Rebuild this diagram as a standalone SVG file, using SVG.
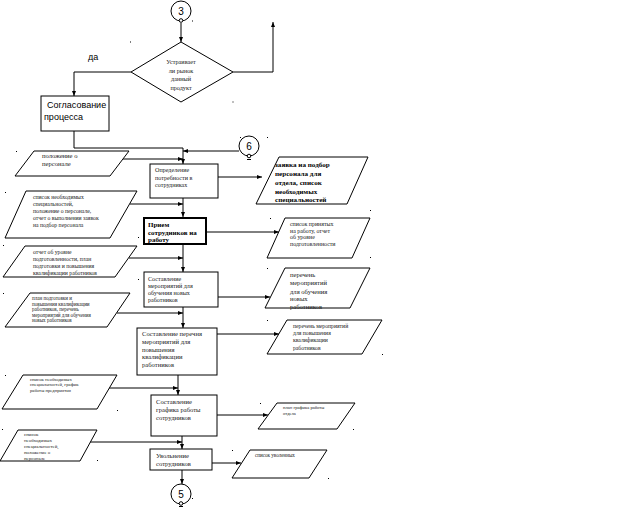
<svg xmlns="http://www.w3.org/2000/svg" width="619" height="508" viewBox="0 0 619 508">
<style>
.ln{fill:none;stroke:#000;stroke-width:1}
.bx{fill:#fff;stroke:#000;stroke-width:1}
.bxb{fill:#fff;stroke:#000;stroke-width:2}
.s{font-family:"Liberation Serif","Times New Roman",serif;fill:#222}
.sb{font-family:"Liberation Serif","Times New Roman",serif;fill:#000;font-weight:bold}
.a{font-family:"Liberation Sans",Arial,sans-serif;fill:#000}
.dot{fill:#000}
</style>
<defs>
<marker id="ar" viewBox="0 0 10 10" refX="10" refY="5" markerWidth="5" markerHeight="5" markerUnits="userSpaceOnUse" orient="auto"><path d="M0,1 L10,5 L0,9 z" fill="#000"/></marker>
</defs>
<rect width="619" height="508" fill="#fff"/>

<g id="connectors">
<path class="ln" d="M181,23 V42" marker-end="url(#ar)"/>
<path class="ln" d="M131,72 H74 V96" marker-end="url(#ar)"/>
<path class="ln" d="M233,72 H273 V22" marker-end="url(#ar)"/>
<path class="ln" d="M74,131 V148 H183 V164" marker-end="url(#ar)"/>
<path class="ln" d="M239,151 H183" marker-end="url(#ar)"/>
<path class="ln" d="M123,159 H183" marker-end="url(#ar)"/>
<path class="ln" d="M183,198 V217" marker-end="url(#ar)"/>
<path class="ln" d="M130,204 H183" marker-end="url(#ar)"/>
<path class="ln" d="M218,177 H262" marker-end="url(#ar)"/>
<path class="ln" d="M206,232 H279" marker-end="url(#ar)"/>
<path class="ln" d="M129,258 H183" marker-end="url(#ar)"/>
<path class="ln" d="M183,244 V272" marker-end="url(#ar)"/>
<path class="ln" d="M218,297 H270" marker-end="url(#ar)"/>
<path class="ln" d="M117,313 H183" marker-end="url(#ar)"/>
<path class="ln" d="M183,307 V328" marker-end="url(#ar)"/>
<path class="ln" d="M217,334 H279" marker-end="url(#ar)"/>
<path class="ln" d="M178,375 V395" marker-end="url(#ar)"/>
<path class="ln" d="M109,388 H178" marker-end="url(#ar)"/>
<path class="ln" d="M217,415 H268" marker-end="url(#ar)"/>
<path class="ln" d="M182,436 V449" marker-end="url(#ar)"/>
<path class="ln" d="M90,442 H182" marker-end="url(#ar)"/>
<path class="ln" d="M212,463 H241" marker-end="url(#ar)"/>
<path class="ln" d="M182,470 V484" marker-end="url(#ar)"/>
</g>

<g id="conn3">
<circle class="bx" cx="181" cy="11" r="10"/>
<text class="a" x="181" y="14.5" font-size="10" text-anchor="middle">3</text>
<circle class="bx" cx="181" cy="20.5" r="1.8"/>
</g>

<g id="decision">
<polygon class="bx" points="181,42 233,72 181,102 131,72"/>
<text class="s" font-size="6.2" text-anchor="middle"><tspan x="181" y="64">Устраивает</tspan><tspan x="181" y="73">ли рынок</tspan><tspan x="181" y="81">данный</tspan><tspan x="181" y="89.5">продукт</tspan></text>
</g>

<g id="yes-label"><text class="a" x="88" y="60" font-size="9">да</text></g>

<g id="soglasovanie">
<rect class="bx" x="41" y="96" width="68" height="35"/>
<text class="a" font-size="9"><tspan x="47" y="107.5">Согласование</tspan><tspan x="44" y="120">процесса</tspan></text>
</g>

<g id="conn6">
<circle class="bx" cx="249" cy="146" r="10"/>
<text class="a" x="249" y="150" font-size="10" text-anchor="middle">6</text>
<circle class="bx" cx="249" cy="156" r="1.8"/>
<path class="ln" d="M247,159.5 H251"/>
</g>

<g id="in-polozhenie">
<polygon class="bx" points="34,151 129,151 110,176 15,176"/>
<text class="s" font-size="6.6"><tspan x="42" y="158">положение о</tspan><tspan x="42" y="166">персонале</tspan></text>
</g>

<g id="opredelenie">
<rect class="bx" x="150" y="164" width="68" height="34"/>
<text class="s" font-size="6.1" fill="#444"><tspan x="155" y="172">Определение</tspan><tspan x="155" y="179.5">потребности в</tspan><tspan x="155" y="187">сотрудниках</tspan></text>
</g>

<g id="out-zayavka">
<polygon class="bx" points="279,157 368,157 347,204 256,204"/>
<text class="sb" font-size="7.1"><tspan x="275" y="167">заявка на подбор</tspan><tspan x="275" y="176">персонала для</tspan><tspan x="275" y="185">отдела, список</tspan><tspan x="275" y="194">необходимых</tspan><tspan x="275" y="202">специальностей</tspan></text>
</g>

<g id="in-spisok1">
<polygon class="bx" points="26,191 137,191 110,238 5,238"/>
<text class="s" font-size="5.7"><tspan x="33" y="199">список необходимых</tspan><tspan x="33" y="206">специальностей,</tspan><tspan x="33" y="213">положение о персонале,</tspan><tspan x="33" y="220">отчет о выполнении заявок</tspan><tspan x="33" y="227">на подбор персонала</tspan></text>
</g>

<g id="priem">
<rect class="bxb" x="144" y="218" width="62" height="26"/>
<text class="sb" font-size="7"><tspan x="148" y="226.5">Прием</tspan><tspan x="148" y="234.5">сотрудников на</tspan><tspan x="148" y="242">работу</tspan></text>
</g>

<g id="out-prinyatye">
<polygon class="bx" points="285,218 370,218 352,258 267,258"/>
<text class="s" font-size="5.9"><tspan x="290" y="226">список принятых</tspan><tspan x="290" y="232.5">на работу, отчет</tspan><tspan x="290" y="239">об уровне</tspan><tspan x="290" y="246">подготовленности</tspan></text>
</g>

<g id="in-otchet">
<polygon class="bx" points="25,246 137,246 115,277 3,277"/>
<text class="s" font-size="5.7"><tspan x="33" y="254">отчет об уровне</tspan><tspan x="33" y="261">подготовленности, план</tspan><tspan x="33" y="268">подготовки и повышения</tspan><tspan x="33" y="275">квалификации работников</tspan></text>
</g>

<g id="sostavlenie-obuch">
<rect class="bx" x="144" y="272" width="74" height="35"/>
<text class="s" font-size="6.1"><tspan x="148" y="281">Составление</tspan><tspan x="148" y="288">мероприятий для</tspan><tspan x="148" y="295">обучения новых</tspan><tspan x="148" y="302">работников</tspan></text>
</g>

<g id="out-perechen-obuch">
<polygon class="bx" points="285,268 370,268 350,308 265,308"/>
<text class="s" font-size="6.6"><tspan x="290" y="277">перечень</tspan><tspan x="290" y="285">мероприятий</tspan><tspan x="290" y="293.5">для обучения</tspan><tspan x="290" y="301">новых</tspan><tspan x="290" y="309">работников</tspan></text>
</g>

<g id="in-plan">
<polygon class="bx" points="30,293 130,293 107,327 5,327"/>
<text class="s" font-size="5.1"><tspan x="32" y="300">план подготовки и</tspan><tspan x="32" y="305.5">повышения квалификации</tspan><tspan x="32" y="311">работников, перечень</tspan><tspan x="32" y="316.5">мероприятий для обучения</tspan><tspan x="32" y="322">новых работников</tspan></text>
</g>

<g id="sostavlenie-perechnya">
<rect class="bx" x="137" y="328" width="80" height="47"/>
<text class="s" font-size="6.6"><tspan x="142" y="336">Составление перечня</tspan><tspan x="142" y="344">мероприятий для</tspan><tspan x="142" y="351.5">повышения</tspan><tspan x="142" y="359">квалификации</tspan><tspan x="142" y="367">работников</tspan></text>
</g>

<g id="out-perechen-kval">
<polygon class="bx" points="287,320 382,320 362,354 267,354"/>
<text class="s" font-size="5.7"><tspan x="293" y="328">перечень мероприятий</tspan><tspan x="293" y="335">для повышения</tspan><tspan x="293" y="342">квалификации</tspan><tspan x="293" y="349.5">работников</tspan></text>
</g>

<g id="in-grafik">
<polygon class="bx" points="23,375 117,375 97,409 2,409"/>
<text class="s" font-size="4.7"><tspan x="30" y="381">список необходимых</tspan><tspan x="30" y="386">специальностей, график</tspan><tspan x="30" y="391.5">работы предприятия</tspan></text>
</g>

<g id="sostavlenie-grafika">
<rect class="bx" x="151" y="395" width="66" height="41"/>
<text class="s" font-size="6.6"><tspan x="156" y="404">Составление</tspan><tspan x="156" y="412">графика работы</tspan><tspan x="156" y="420">сотрудников</tspan></text>
</g>

<g id="out-grafik">
<polygon class="bx" points="277,403 355,403 337,429 258,429"/>
<text class="s" font-size="4.6"><tspan x="283" y="409">план графика работы</tspan><tspan x="283" y="414.5">отдела</tspan></text>
</g>

<g id="in-spisok2">
<polygon class="bx" points="18,430 97,430 80,461 0,461"/>
<text class="s" font-size="4.9"><tspan x="24" y="435.5">список</tspan><tspan x="24" y="441.5">необходимых</tspan><tspan x="24" y="447.5">специальностей,</tspan><tspan x="24" y="453.5">положение о</tspan><tspan x="24" y="459.5">персонале</tspan></text>
</g>

<g id="uvolnenie">
<rect class="bx" x="150" y="449" width="62" height="21"/>
<text class="s" font-size="6.6"><tspan x="156" y="458">Увольнение</tspan><tspan x="156" y="466">сотрудников</tspan></text>
</g>

<g id="out-uvolennye">
<polygon class="bx" points="250,450 327,450 309,478 232,478"/>
<text class="s" font-size="5.1"><tspan x="255" y="457">список уволенных</tspan></text>
</g>

<g id="conn5">
<circle class="bx" cx="181" cy="494" r="10"/>
<text class="a" x="181" y="497.5" font-size="10" text-anchor="middle">5</text>
<circle class="bx" cx="181" cy="503.5" r="1.8"/>
<path class="ln" d="M179,506.5 H183"/>
</g>

<g id="marks">
<rect class="dot" x="130" y="41.5" width="1" height="1"/>
<rect class="dot" x="192" y="20.5" width="1" height="1"/>
<rect class="dot" x="232.5" y="101.5" width="1" height="1"/>
<rect class="dot" x="240" y="137" width="1" height="1"/>
<rect class="dot" x="16" y="151" width="1" height="1"/>
<rect class="dot" x="5" y="192" width="1" height="1"/>
<rect class="dot" x="3" y="245" width="1" height="1"/>
<rect class="dot" x="138" y="237" width="1" height="1"/>
<rect class="dot" x="138" y="279" width="1" height="1"/>
<rect class="dot" x="267" y="137" width="1" height="1"/>
<rect class="dot" x="270" y="218" width="1" height="1"/>
<rect class="dot" x="370" y="257" width="1" height="1"/>
<rect class="dot" x="370" y="210" width="1" height="1"/>
<rect class="dot" x="3" y="293" width="1" height="1"/>
<rect class="dot" x="5" y="375" width="1" height="1"/>
<rect class="dot" x="267" y="268" width="1" height="1"/>
<rect class="dot" x="267" y="320" width="1" height="1"/>
<rect class="dot" x="382" y="354" width="1" height="1"/>
<rect class="dot" x="117" y="410" width="1" height="1"/>
<rect class="dot" x="2" y="429" width="1" height="1"/>
<rect class="dot" x="97" y="460" width="1" height="1"/>
<rect class="dot" x="260" y="403" width="1" height="1"/>
<rect class="dot" x="353" y="429" width="1" height="1"/>
<rect class="dot" x="232" y="450" width="1" height="1"/>
<rect class="dot" x="328" y="478" width="1" height="1"/>
<rect class="dot" x="192" y="498" width="1" height="1"/>
</g>
</svg>
